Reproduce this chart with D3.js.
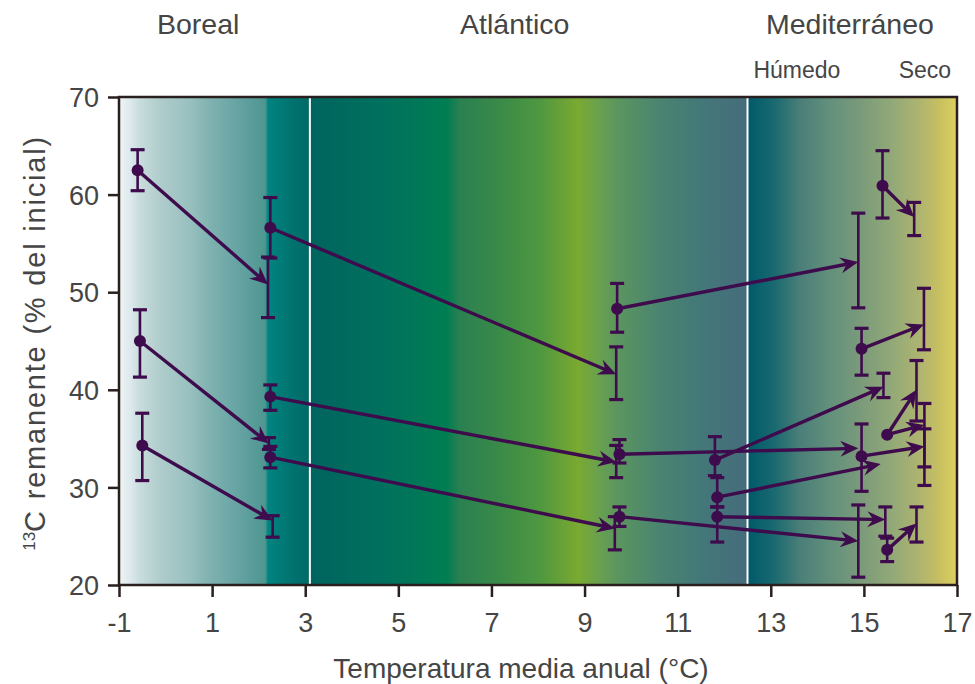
<!DOCTYPE html>
<html><head><meta charset="utf-8">
<script src="https://cdn.jsdelivr.net/npm/d3@7"></script>
<style>body{margin:0;background:#fff}svg{display:block}</style>
</head><body>
<svg id="chart" width="975" height="684"></svg>
<script>
// ---- data ----
const xTicks = [-1, 1, 3, 5, 7, 9, 11, 13, 15, 17];
const yTicks = [20, 30, 40, 50, 60, 70];
const zoneLabels = ["Boreal", "Atlántico", "Mediterráneo"];
const zoneLabelT = [0.7, 7.5, 14.7];
const subLabels = ["Húmedo", "Seco"];
const subLabelT = [13.56, 16.31];
const zoneBounds = [3.1, 12.5];

// start points (circles)
const pointT  = [-0.6, -0.55, -0.5, 2.25, 2.25, 2.25, 9.7, 9.75, 9.75, 11.8, 11.85, 11.85, 14.95, 14.95, 15.4, 15.5, 15.5];
const pointC  = [62.5, 45.0, 34.3, 56.6, 39.3, 33.1, 48.3, 33.4, 27.0, 32.8, 29.0, 27.0, 44.2, 33.2, 60.9, 35.4, 23.6];
const pointLo = [60.4, 41.3, 30.7, 53.5, 37.9, 32.0, 45.9, 32.5, 26.0, 31.2, 28.0, 24.4, 41.5, 29.6, 57.6, null, 22.4];
const pointHi = [64.6, 48.2, 37.6, 59.7, 40.5, 34.2, 50.9, 34.9, 28.0, 35.2, 31.0, 28.0, 46.3, 36.5, 64.5, null, 24.8];

// arrows: from point index to destination
const arrowFrom = [0, 3, 1, 2, 4, 5, 6, 7, 8, 9, 10, 11, 12, 13, 14, 15, 15, 16];
const arrowT  = [2.2, 9.68, 2.22, 2.3, 9.68, 9.65, 14.88, 14.88, 14.88, 15.42, 15.36, 15.46, 16.29, 16.3, 16.08, 16.13, 16.3, 16.13];
const arrowC  = [50.8, 41.6, 34.5, 26.6, 32.6, 25.8, 53.1, 34.0, 24.5, 40.3, 32.4, 26.7, 46.7, 34.2, 57.7, 40.0, 36.4, 26.3];
const arrowLo = [47.4, 39.0, 33.9, 24.9, 31.0, 23.6, 48.4, null, 20.8, 39.2, null, 25.0, 44.1, 30.2, 55.8, 36.8, 32.1, 24.4];
const arrowHi = [53.6, 44.4, 35.1, 27.1, 34.3, 27.0, 58.1, null, 28.2, 41.7, null, 28.0, 50.4, 36.0, 59.2, 43.0, 38.6, 28.0];

// background climate gradient (temperature, colour)
const gradT = [-1, -0.76, -0.55, -0.12, 0.52, 0.95, 1.6, 2.14, 2.2, 2.67, 3.1, 3.12, 4.6, 5.68, 6.04, 6.32, 7.18, 8.04, 8.47, 8.86, 9.33, 9.76, 10.6, 11.48, 12.5, 12.52, 13.09, 13.62, 14.27, 14.91, 15.56, 16.2, 16.63, 17];
const gradCol = ["#f0f5f3", "#dde9ee", "#c8dcdc", "#b0cccc", "#98c0bf", "#7fb2b0", "#64a2a2", "#4e9690", "#008480", "#007470", "#006a66", "#00645e", "#00705e", "#007a55", "#007e52", "#2a8050", "#3a8a48", "#4e9840", "#66a038", "#7aaa30", "#68a050", "#5a9460", "#4a8470", "#437878", "#466c7c", "#005a6a", "#1a6a70", "#4a7e78", "#62907c", "#7a9a7a", "#90a878", "#aeb470", "#c8c060", "#dcd060"];

// ---- layout ----
const svg = d3.select("#chart");
const L = 119, R = 957, T = 97, B = 585;
const x = d3.scaleLinear().domain([-1, 17]).range([L, R]);
const y = d3.scaleLinear().domain([20, 70]).range([B, T]);
const ink = "#3e0b4c";
const axisCol = "#2a1f1f";
const textCol = "#454545";
const font = "'Liberation Sans', Arial, sans-serif";

const defs = svg.append("defs");
const lg = defs.append("linearGradient").attr("id", "bg")
  .attr("gradientUnits", "userSpaceOnUse")
  .attr("x1", L).attr("x2", R).attr("y1", 0).attr("y2", 0);
gradT.forEach((t, i) => lg.append("stop")
  .attr("offset", (x(t) - L) / (R - L)).attr("stop-color", gradCol[i]));

svg.append("rect").attr("x", L).attr("y", T).attr("width", R - L).attr("height", B - T)
  .attr("fill", "url(#bg)");

zoneBounds.forEach(t => svg.append("line")
  .attr("x1", x(t)).attr("x2", x(t)).attr("y1", T).attr("y2", B)
  .attr("stroke", "#fff").attr("stroke-width", 2));

// axes
const gx = svg.append("g").attr("transform", `translate(0,${B})`)
  .call(d3.axisBottom(x).tickValues(xTicks).tickFormat(d => String(d)).tickSize(12));
const gy = svg.append("g").attr("transform", `translate(${L},0)`)
  .call(d3.axisLeft(y).tickValues(yTicks).tickFormat(d => String(d)).tickSize(11));
[gx, gy].forEach(g => {
  g.select(".domain").remove();
  g.selectAll(".tick line").attr("stroke", axisCol).attr("stroke-width", 2.5);
  g.selectAll(".tick text").attr("fill", textCol).attr("font-family", font).attr("font-size", 27);
});
gx.selectAll(".tick text").attr("y", 47).attr("dy", 0);
gy.selectAll(".tick text").attr("x", -20).attr("dy", "0.36em");

// frame
svg.append("rect").attr("x", L).attr("y", T).attr("width", R - L).attr("height", B - T)
  .attr("fill", "none").attr("stroke", axisCol).attr("stroke-width", 2.5);

// error bars
const cap = 7;
function errBar(t, lo, hi) {
  if (lo == null || hi == null) return;
  const g = svg.append("g").attr("stroke", ink);
  g.append("line").attr("x1", x(t)).attr("x2", x(t)).attr("y1", y(lo)).attr("y2", y(hi)).attr("stroke-width", 2.6);
  [lo, hi].forEach(v => g.append("line").attr("x1", x(t) - cap).attr("x2", x(t) + cap)
    .attr("y1", y(v)).attr("y2", y(v)).attr("stroke-width", 3.2));
}
pointT.forEach((t, i) => errBar(t, pointLo[i], pointHi[i]));
arrowT.forEach((t, i) => errBar(t, arrowLo[i], arrowHi[i]));

// arrows
const headLen = 18, headW = 8, notch = 12;
arrowFrom.forEach((p, i) => {
  const x0 = x(pointT[p]), y0 = y(pointC[p]);
  const x1 = x(arrowT[i]), y1 = y(arrowC[i]);
  const dx = x1 - x0, dy = y1 - y0, len = Math.hypot(dx, dy);
  const ux = dx / len, uy = dy / len, nx = -uy, ny = ux;
  svg.append("line").attr("x1", x0).attr("y1", y0)
    .attr("x2", x1 - ux * notch).attr("y2", y1 - uy * notch)
    .attr("stroke", ink).attr("stroke-width", 3.4);
  const bx = x1 - ux * headLen, by = y1 - uy * headLen;
  const pts = [[x1, y1], [bx + nx * headW, by + ny * headW], [x1 - ux * notch, y1 - uy * notch], [bx - nx * headW, by - ny * headW]];
  svg.append("path").attr("d", "M" + pts.map(q => q.join(",")).join("L") + "Z").attr("fill", ink);
});

// points
svg.selectAll("circle.pt").data(pointT).join("circle").attr("class", "pt")
  .attr("cx", d => x(d)).attr("cy", (d, i) => y(pointC[i])).attr("r", 6).attr("fill", ink);

// labels
zoneLabels.forEach((s, i) => svg.append("text").text(s)
  .attr("x", x(zoneLabelT[i])).attr("y", 34).attr("text-anchor", "middle")
  .attr("font-family", font).attr("font-size", 28.5).attr("fill", textCol));
subLabels.forEach((s, i) => svg.append("text").text(s)
  .attr("x", x(subLabelT[i])).attr("y", 78).attr("text-anchor", "middle")
  .attr("font-family", font).attr("font-size", 23).attr("fill", textCol));

svg.append("text").text("Temperatura media anual (°C)")
  .attr("x", 521).attr("y", 678).attr("text-anchor", "middle")
  .attr("font-family", font).attr("font-size", 28).attr("fill", textCol);

const yt = svg.append("text").attr("transform", "translate(45,343) rotate(-90)")
  .attr("text-anchor", "middle").attr("font-family", font).attr("font-size", 29)
  .attr("letter-spacing", 1.8).attr("fill", textCol);
yt.append("tspan").text("13").attr("font-size", 17).attr("letter-spacing", 0).attr("dy", -10);
yt.append("tspan").text("C remanente (% del inicial)").attr("dy", 10);
</script>
</body></html>
